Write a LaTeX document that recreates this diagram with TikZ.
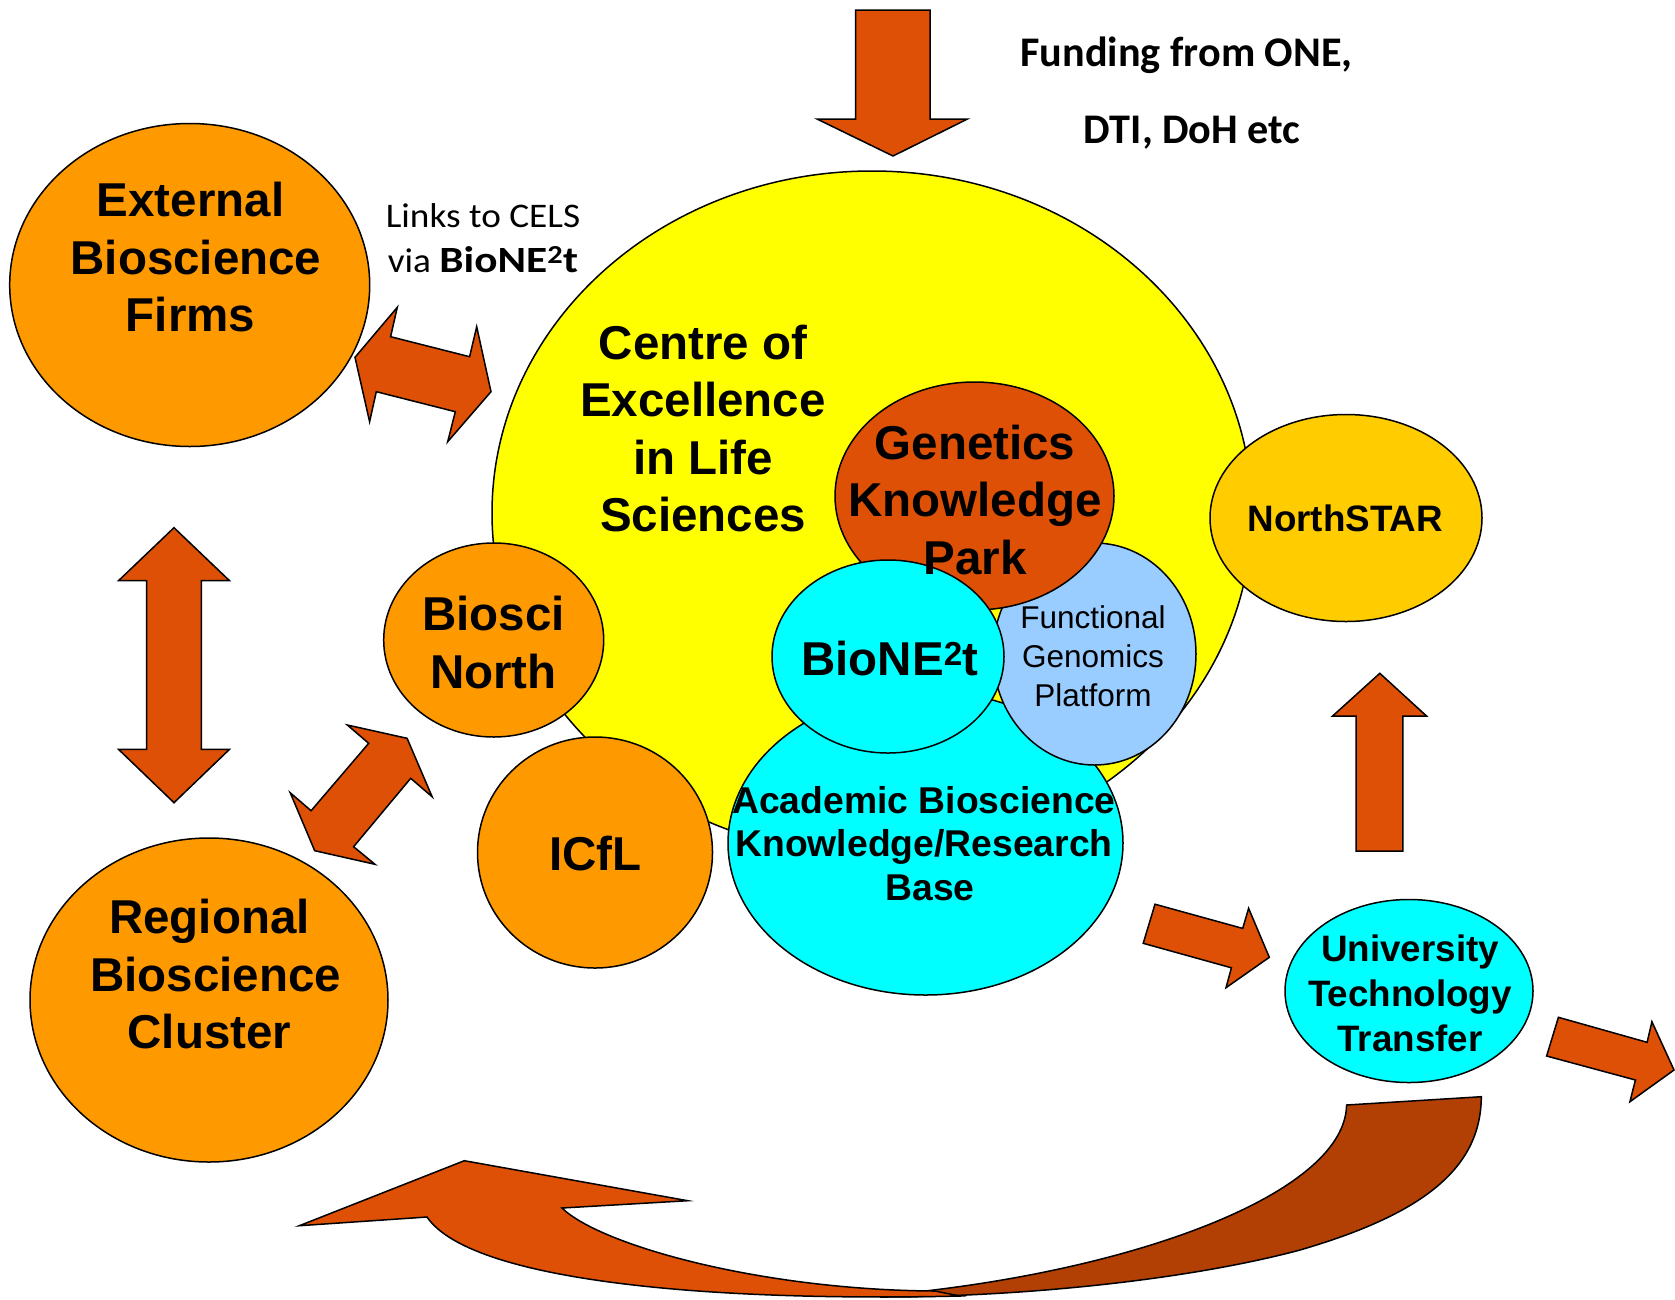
\documentclass[tikz,border=0pt]{standalone}
\usepackage{graphicx}
\usepackage{fontspec}
\setmainfont{Liberation Sans}
\newfontfamily\calibri{Carlito}
\usetikzlibrary{shapes.geometric}

\definecolor{orng}{RGB}{255,153,0}
\definecolor{rust}{RGB}{221,80,5}
\definecolor{rustdark}{RGB}{178,64,4}
\definecolor{gold}{RGB}{255,204,0}
\definecolor{lblue}{RGB}{153,204,255}
\definecolor{aqua}{RGB}{0,255,255}
\definecolor{yell}{RGB}{255,255,0}

\begin{document}
\begin{tikzpicture}[x=1pt,y=-1pt,
  blob/.style={ellipse, draw=black, line width=1.5pt, inner sep=0pt},
  blockarrow/.style={fill=rust, draw=black, line width=1.5pt, line join=miter},
  bigtxt/.style={font=\fontsize{47.5}{57.5}\selectfont\bfseries, align=center, inner sep=0pt},
  acadtxt/.style={font=\fontsize{37.3}{43.5}\selectfont\bfseries, align=center, inner sep=0pt},
  utttxt/.style={font=\fontsize{36.8}{45}\selectfont\bfseries, align=center, inner sep=0pt},
  functxt/.style={font=\fontsize{31.5}{39}\selectfont, align=center, inner sep=0pt},
  caltxt/.style={font=\calibri\fontsize{34.5}{44.5}\selectfont, align=center, inner sep=0pt},
  calbtxt/.style={font=\calibri\fontsize{42.2}{49}\selectfont\bfseries, inner sep=0pt}
]
\path[use as bounding box] (0,0) rectangle (1675,1299);
\begin{scope}
\clip (0,0) rectangle (1675,1299);

% ellipses
\node[blob, fill=orng, minimum width=360pt, minimum height=323pt] (ext) at (189.7,285) {};
\node[blob, fill=orng, minimum width=358pt, minimum height=324pt] (reg) at (209,1000) {};
\node[blob, fill=yell, minimum width=760pt, minimum height=684pt] (cels) at (872,513) {};
\node[blob, fill=orng, minimum width=220pt, minimum height=194pt] (bio) at (493.7,640) {};
\node[blob, fill=orng, minimum width=235pt, minimum height=231pt] (icfl) at (595,852.5) {};
\node[blob, fill=aqua, minimum width=395pt, minimum height=304pt] (acad) at (925.5,843) {};
\node[blob, fill=lblue, minimum width=203pt, minimum height=222pt] (func) at (1094.5,654) {};
\node[blob, fill=rust, minimum width=279pt, minimum height=228pt] (gkp) at (974.5,496) {};
\node[blob, fill=aqua, minimum width=232pt, minimum height=193pt] (bione) at (888,656.5) {};
\node[blob, fill=gold, minimum width=272pt, minimum height=207pt] (nstar) at (1346,518) {};
\node[blob, fill=aqua, minimum width=248pt, minimum height=183pt] (utt) at (1409,991) {};

% block arrows
\draw[blockarrow] (855.5,10) -- (930,10) -- (930,119) -- (967.5,119) -- (893,156) -- (817,119) -- (855.5,119) -- cycle;
\draw[blockarrow] (355,357.3) -- (397.3,307.3) -- (390.6,336.7) -- (469.6,356.7) -- (476.7,326.7) -- (491,391.7) -- (447.7,441.7) -- (455.3,411.7) -- (376.3,391.7) -- (369.6,421.7) -- cycle;
\draw[blockarrow] (174,527.7) -- (229.5,580.7) -- (201.3,580.7) -- (201.3,749.3) -- (229.5,749.3) -- (174,802.7) -- (118.5,749.3) -- (146.7,749.3) -- (146.7,580.7) -- (118.5,580.7) -- cycle;
\draw[blockarrow] (347.3,725) -- (407.1,738.3) -- (432.1,796.7) -- (410.7,778.3) -- (353.6,846.7) -- (375,864.3) -- (314.7,850.7) -- (290.2,792.7) -- (311.1,810.7) -- (368.7,743.3) -- cycle;
\draw[blockarrow] (1379.8,673.3) -- (1426.5,716) -- (1402.9,716) -- (1402.9,851) -- (1356.2,851) -- (1356.2,716) -- (1332.6,716) -- cycle;
\draw[blockarrow] (1155,904.2) -- (1242.7,928.4) -- (1248.6,908.3) -- (1269.3,957.3) -- (1226,987.7) -- (1231.4,967.8) -- (1143.2,943.3) -- cycle;
\draw[blockarrow] (1558.4,1017.3) -- (1647.1,1042.3) -- (1651.9,1021.7) -- (1674,1070) -- (1629.9,1101.7) -- (1635.4,1080) -- (1546.6,1056) -- cycle;

% curved arrow: back (dark) part
\draw[blockarrow, fill=rustdark] (1346.6,1105) -- (1481.3,1096.7)
  .. controls (1481,1170) and (1420,1215) .. (1300,1250)
  .. controls (1180,1282) and (1010,1297) .. (880,1297)
  -- (925,1291)
  .. controls (1150,1265) and (1345,1190) .. (1346.6,1105) -- cycle;
% curved arrow: front part with head
\draw[blockarrow] (935,1291) .. controls (760,1290) and (600,1245) .. (562,1208)
  -- (687.7,1200.7) -- (464.3,1160.7) -- (299.3,1225.7) -- (427,1217)
  .. controls (470,1280) and (700,1302) .. (960,1296) -- cycle;
\end{scope}

% texts
\node[bigtxt] (ext-t) at (190.5,257.5) {External\\\hspace*{11pt}Bioscience\\Firms};
\node[bigtxt] (cels-t) at (703,428.5) {Centre of\\Excellence\\in Life\\Sciences};
\node[bigtxt] (gkp-t) at (975,500) {Genetics\\Knowledge\\Park};
\node[bigtxt] (bio-t) at (493.5,642.3) {Biosci\\North};
\node[bigtxt, anchor=base] (icfl-t) at (595.3,870.7) {ICfL};
\node[bigtxt] (reg-t) at (209.5,974.3) {Regional\\\hspace*{12pt}Bioscience\\Cluster};
\node[bigtxt, anchor=base] (bione-t) at (890,675) {BioNE\textsuperscript{2}t};
\node[acadtxt] (acad-t) at (924,843.5) {Academic Bioscience\\Knowledge/Research\\\hspace*{12pt}Base};
\node[utttxt, anchor=base] (nstar-t) at (1345.3,531.7) {NorthSTAR};
\node[utttxt] (utt-t) at (1410,993) {University\\Technology\\Transfer};
\node[functxt] (func-t) at (1093,656) {Functional\\Genomics\\Platform};
\node[caltxt] (links-t) at (483,238) {\scalebox{1.08}[1]{Links to CELS}\\\scalebox{1.08}[1]{via }\scalebox{1.17}[1]{\fontsize{37}{44.5}\selectfont\bfseries BioNE\textsuperscript{2}t}};
\node[calbtxt, anchor=base] (fund1) at (1186.6,66.7) {Funding from ONE,};
\node[calbtxt, anchor=base] (fund2) at (1192.2,143.3) {DTI, DoH etc};
\end{tikzpicture}
\end{document}
